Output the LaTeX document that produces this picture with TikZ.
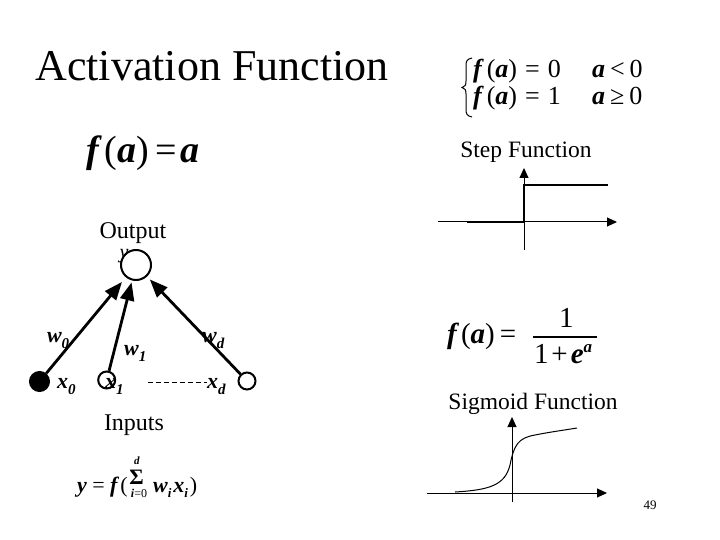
\documentclass[tikz,border=0pt]{standalone}
\usepackage{fontspec}
\setmainfont{Liberation Serif}
\usetikzlibrary{arrows.meta}
\newcommand\bi[1]{\textbf{\textit{#1}}}
\newcommand\fsz[1]{\fontsize{#1}{#1}\selectfont}
\newcommand\lsub[1]{\raisebox{-6pt}{\fsz{15}\bi{#1}}}
\newcommand\fsub[1]{\raisebox{-5pt}{\fsz{13}\bi{#1}}}
\tikzset{
  txt/.style={inner sep=0pt, outer sep=0pt},
  btxt/.style={inner sep=0pt, outer sep=0pt, anchor=base west},
  conn/.style={line width=2.8pt, -{Triangle[length=18pt,width=14pt]}},
  axis/.style={line width=1pt, -{Triangle[length=10pt,width=9pt]}},
  stepline/.style={line width=2pt},
  neuron/.style={circle, draw, fill=white, line width=2pt, inner sep=0pt},
}
\begin{document}
\begin{tikzpicture}[x=1pt,y=-1pt]
\useasboundingbox (0,0) rectangle (720,540);
% title
\node[txt] (title) at (212,66) {\fsz{44}Activation Function};
% linear function
\node[btxt] (lin) at (86,163) {\fsz{38}\bi{f}\hspace{3pt}(\bi{a})\hspace{6pt}=\hspace{4pt}\bi{a}};
% network
\node[txt] (outlbl) at (133,233) {\fsz{24}Output};
\node[txt] (ylbl) at (124,256) {\fsz{20}\textit{y}};
\node[neuron, minimum size=30pt] (out) at (136,265) {};
\node[btxt] (x0lbl) at (57,388) {\fsz{22}\bi{x}\lsub{0}};
\node[btxt] (x1lbl) at (105,388) {\fsz{22}\bi{x}\lsub{1}};
\node[btxt] (xdlbl) at (207,388) {\fsz{22}\bi{x}\lsub{d}};
\node[circle, fill=black, draw, line width=1pt, minimum size=20pt, inner sep=0pt] (x0) at (39.5,381.5) {};
\node[neuron, fill=none, minimum size=17pt] (x1) at (106.7,380) {};
\node[neuron, minimum size=17pt] (xd) at (247,381) {};
\node[btxt] (w0lbl) at (47,342) {\fsz{22}\bi{w}\lsub{0}};
\node[btxt] (w1lbl) at (124,355) {\fsz{22}\bi{w}\lsub{1}};
\node[btxt] (wdlbl) at (202,342) {\fsz{22}\bi{w}\lsub{d}};
\draw[conn, shorten >=6pt] (x0) -- (out);
\draw[conn, shorten >=2pt] (x1) -- (out);
\draw[conn, shorten >=4pt] (xd) -- (out);
\coordinate (dashA) at (148,382);
\coordinate (dashB) at (207,382);
\draw[line width=1pt, dash pattern=on 5pt off 3pt] (dashA) -- (dashB);
\node[txt] (inlbl) at (134,425) {\fsz{24}Inputs};
% output formula
\node[btxt] (yf1) at (77,492) {\fsz{22}\bi{y} = \bi{f}\hspace{1pt}(};
\node[txt] (sumd) at (137,461) {\fsz{11}\bi{d}};
\node[txt] (sigma) at (136.5,477) {\fsz{22}\textbf{Σ}};
\node[txt] (sumi) at (139,493) {\fsz{12}\bi{i}=0};
\node[btxt] (yf2) at (153,492) {\fsz{22}\bi{w}\fsub{i}\hspace{2pt}\bi{x}\fsub{i}\hspace{2pt})};
% step function
\coordinate (brT) at (472,58);
\coordinate (brM) at (462,87.5);
\coordinate (brB) at (472,117);
\draw[line width=1pt] (brT) .. controls (467,59) and (466,61) .. (466,66) -- (466,81)
  .. controls (466,85) and (465,87) .. (brM) .. controls (465,88) and (466,90) .. (466,94)
  -- (466,109) .. controls (466,114) and (467,116) .. (brB);
\node[btxt] (s1) at (473,78) {\fsz{26}\bi{f}\hspace{3pt}(\bi{a})\hspace{8pt}=\hspace{8pt}0};
\node[btxt] (s1c) at (592,78) {\fsz{26}\bi{a}\hspace{5pt}<\hspace{5pt}0};
\node[btxt] (s2) at (473,105) {\fsz{26}\bi{f}\hspace{3pt}(\bi{a})\hspace{8pt}=\hspace{8pt}1};
\node[btxt] (s2c) at (592,105) {\fsz{26}\bi{a}\hspace{5pt}≥\hspace{5pt}0};
\node[txt] (steplbl) at (526,152) {\fsz{23.5}Step Function};
\coordinate (sO) at (524,222);
\coordinate (sL) at (438,222);
\coordinate (sR) at (617,222);
\coordinate (sB) at (524,250);
\coordinate (sT) at (524,168);
\draw[axis] (sL) -- (sR);
\draw[axis] (sB) -- (sT);
\draw[stepline] (467,222) -- (sO) -- (524,185) -- (608,185);
% sigmoid function
\node[btxt] (sg1) at (447,343) {\fsz{29}\bi{f}\hspace{2pt}(\bi{a})\hspace{5pt}=};
\node[btxt] (num) at (559,327) {\fsz{29}1};
\node[btxt] (den) at (534,363) {\fsz{29}1\hspace{3pt}+\hspace{3pt}\bi{e}\raisebox{11pt}{\fsz{17}\bi{a}}};
\draw[line width=1.3pt] (533,337) -- (597,337);
\node[txt] (siglbl) at (533,404) {\fsz{23.5}Sigmoid Function};
\coordinate (gL) at (427,493);
\coordinate (gR) at (607,493);
\coordinate (gB) at (512,502);
\coordinate (gT) at (512,417);
\draw[axis] (gL) -- (gR);
\draw[axis] (gB) -- (gT);
\draw[line width=1pt] (455,492) .. controls (490,490) and (505,485) .. (510,465)
  .. controls (514,445) and (518,438) .. (535,435)
  .. controls (550,432) and (565,430) .. (577,428);
% page number
\node[txt] (pg) at (650,505) {\fsz{13}49};
\end{tikzpicture}
\end{document}
